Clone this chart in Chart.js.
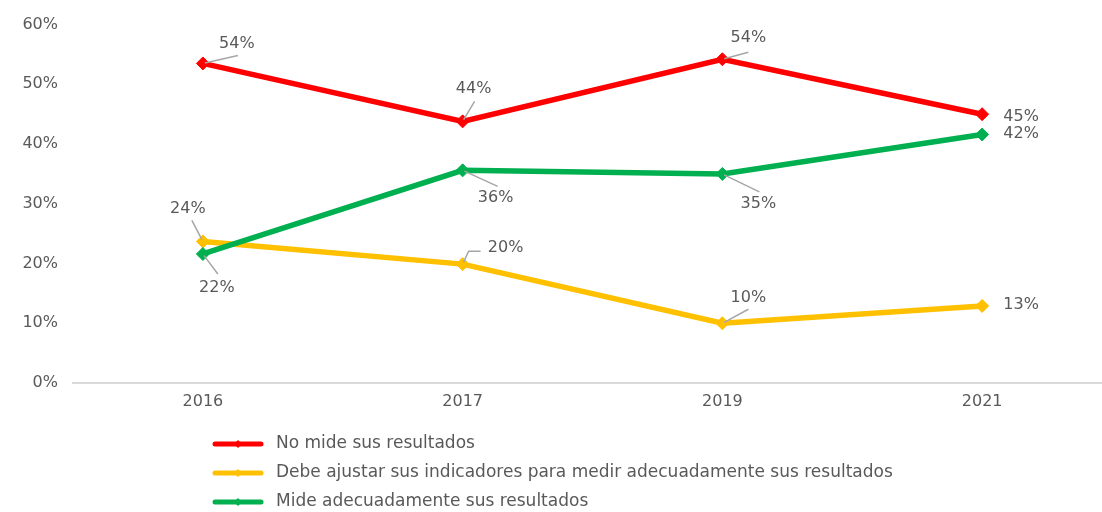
<!DOCTYPE html>
<html>
<head>
<meta charset="utf-8">
<script src="https://cdn.jsdelivr.net/npm/chart.js@4/dist/chart.umd.min.js"></script>
<style>
  html, body { margin: 0; padding: 0; background: #fff; overflow: hidden; }
  #wrap { width: 1130px; height: 512px; }
</style>
</head>
<body>
<div id="wrap"><canvas id="lineChartResultados" width="1130" height="512"></canvas></div>
<script>
// datos del grafico
var anios = ['2016', '2017', '2019', '2021'];
var serieNombres = [
    'No mide sus resultados',
    'Debe ajustar sus indicadores para medir adecuadamente sus resultados',
    'Mide adecuadamente sus resultados'
];
var noMide = [53.5, 43.8, 54.2, 45.0];
var debeAjustar = [23.7, 19.9, 10.0, 12.9];
var mideAdecuado = [21.6, 35.6, 35.0, 41.6];
var ticksY = [0, 10, 20, 30, 40, 50, 60];

var colores = ['#FF0000', '#FFC000', '#00B050'];
var textoColor = '#595959';
var fuente = "'DejaVu Sans', sans-serif";

// posicion de las etiquetas respecto al punto (t = texto, l = fin de la guia, e = codo)
var etiquetasPos = [
    [{ t: [34, -20], l: [35, -8] }, { t: [11, -33], l: [12, -20] }, { t: [26, -21], l: [26, -7] }, { t: [39, 3] }],
    [{ t: [-15, -33], l: [-11, -21] }, { t: [43, -16], e: [6, -13], l: [18, -13] }, { t: [26, -25], l: [26, -14] }, { t: [39, -1] }],
    [{ t: [14, 34], l: [15, 20] }, { t: [33, 27], l: [35, 16] }, { t: [36, 30], l: [37, 18] }, { t: [39, -1] }]
];

var etiquetasPlugin = {
    id: 'etiquetas',
    afterDatasetsDraw: function (chart) {
        var ctx = chart.ctx;
        ctx.save();
        chart.data.datasets.forEach(function (ds, i) {
            var meta = chart.getDatasetMeta(i);
            meta.data.forEach(function (pt, j) {
                var pos = etiquetasPos[i][j];
                if (pos.l) {
                    ctx.beginPath();
                    ctx.strokeStyle = '#A6A6A6';
                    ctx.lineWidth = 1.5;
                    var dx = pos.e ? pos.e[0] : pos.l[0];
                    var dy = pos.e ? pos.e[1] : pos.l[1];
                    var len = Math.sqrt(dx * dx + dy * dy);
                    ctx.moveTo(pt.x + dx / len * 2, pt.y + dy / len * 2);
                    if (pos.e) ctx.lineTo(pt.x + pos.e[0], pt.y + pos.e[1]);
                    ctx.lineTo(pt.x + pos.l[0], pt.y + pos.l[1]);
                    ctx.stroke();
                }
                ctx.fillStyle = textoColor;
                ctx.font = '16px ' + fuente;
                ctx.textAlign = 'center';
                ctx.textBaseline = 'middle';
                ctx.fillText(Math.round(ds.data[j]) + '%', pt.x + pos.t[0], pt.y + pos.t[1]);
            });
        });
        ctx.restore();
    }
};

// leyenda vertical dibujada a mano
var leyendaPlugin = {
    id: 'leyendaVertical',
    afterDraw: function (chart) {
        var ctx = chart.ctx;
        var y0 = chart.chartArea.bottom + 61;
        ctx.save();
        chart.data.datasets.forEach(function (ds, i) {
            var y = y0 + i * 29;
            ctx.beginPath();
            ctx.strokeStyle = ds.borderColor;
            ctx.lineWidth = 5;
            ctx.lineCap = 'round';
            ctx.moveTo(215, y);
            ctx.lineTo(261, y);
            ctx.stroke();
            ctx.beginPath();
            ctx.fillStyle = ds.borderColor;
            ctx.moveTo(238, y - 4);
            ctx.lineTo(242, y);
            ctx.lineTo(238, y + 4);
            ctx.lineTo(234, y);
            ctx.closePath();
            ctx.fill();
            ctx.fillStyle = textoColor;
            ctx.font = '17px ' + fuente;
            ctx.textAlign = 'left';
            ctx.textBaseline = 'middle';
            ctx.fillText(ds.label, 276, y);
        });
        ctx.restore();
    }
};

function crearSerie(nombre, datos, color, orden) {
    return {
        label: nombre,
        data: datos,
        borderColor: color,
        backgroundColor: color,
        borderWidth: 5.5,
        pointStyle: 'rectRot',
        pointRadius: 6.5,
        pointBorderWidth: 1,
        tension: 0,
        order: orden
    };
}

var ctx = document.getElementById('lineChartResultados').getContext('2d');
new Chart(ctx, {
    type: 'line',
    data: {
        labels: anios,
        datasets: [
            crearSerie(serieNombres[0], noMide, colores[0], 0),
            crearSerie(serieNombres[1], debeAjustar, colores[1], 2),
            crearSerie(serieNombres[2], mideAdecuado, colores[2], 1)
        ]
    },
    options: {
        responsive: false,
        animation: false,
        layout: { padding: { top: 23, right: 18, bottom: 0, left: 0 } },
        plugins: { legend: { display: false }, tooltip: { enabled: false } },
        scales: {
            x: {
                offset: true,
                grid: { display: false, drawTicks: false },
                border: { display: true, color: '#D9D9D9', width: 2 },
                ticks: { color: textoColor, font: { family: fuente, size: 16 }, padding: 9 },
                afterFit: function (scale) { scale.height = 129; }
            },
            y: {
                min: 0,
                max: 60,
                afterBuildTicks: function (scale) {
                    scale.ticks = ticksY.map(function (v) { return { value: v }; });
                },
                grid: { display: false, drawTicks: false },
                border: { display: false },
                ticks: {
                    color: textoColor,
                    font: { family: fuente, size: 16 },
                    padding: 15,
                    callback: function (v) { return v + '%'; }
                },
                afterFit: function (scale) { scale.width = 73; }
            }
        }
    },
    plugins: [etiquetasPlugin, leyendaPlugin]
});
</script>
</body>
</html>
